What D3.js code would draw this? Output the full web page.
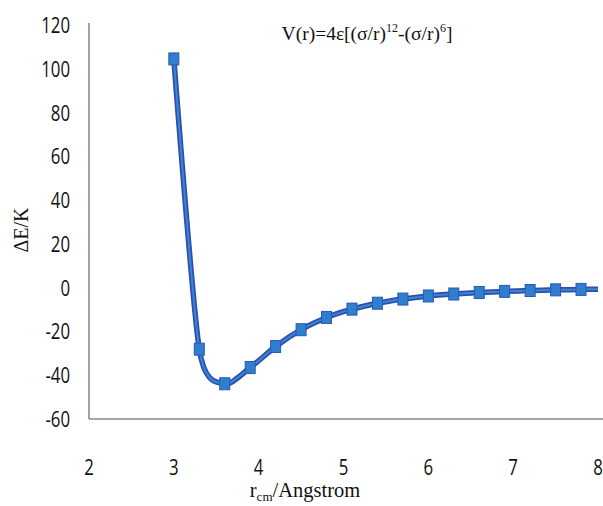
<!DOCTYPE html>
<html><head><meta charset="utf-8">
<script src="https://cdn.jsdelivr.net/npm/d3@7"></script>
<style>body{margin:0;background:#fff}svg{display:block}</style>
</head><body>
<svg id="c" width="603" height="506"></svg>
<script>
const rValues = [3.0,3.3,3.6,3.9,4.2,4.5,4.8,5.1,5.4,5.7,6.0,6.3,6.6,6.9,7.2,7.5,7.8];
const energyValues = [104.5,-28.1,-43.9,-36.5,-26.9,-19.2,-13.6,-9.8,-7.1,-5.2,-3.8,-2.9,-2.2,-1.7,-1.3,-1.0,-0.8];
const tailR = [8.0];
const tailE = [-0.7];
const xTicks = [2,3,4,5,6,7,8];
const yTicks = [-60,-40,-20,0,20,40,60,80,100,120];

const svg = d3.select("#c");
const x = d3.scaleLinear().domain([2,8]).range([89,598]);
const y = d3.scaleLinear().domain([-60,120]).range([419,25]);

// axes lines
svg.append("line").attr("x1",x(2)).attr("x2",603).attr("y1",y(-60)).attr("y2",y(-60))
  .attr("stroke","#8a8a8a").attr("stroke-width",1.6);
svg.append("line").attr("x1",x(2)).attr("x2",x(2)).attr("y1",y(-60)).attr("y2",23)
  .attr("stroke","#8a8a8a").attr("stroke-width",1.6);

const tickFont = "'Open Sans','Liberation Sans',sans-serif";
const sx = 0.8;
svg.append("g").selectAll("text").data(yTicks).join("text")
  .attr("transform",d=>`translate(70,${y(d)}) scale(${sx},1.05)`).attr("dy","0.36em")
  .attr("text-anchor","end").attr("font-family",tickFont).attr("font-size",21).attr("fill","#111")
  .text(d=>d);
svg.append("g").selectAll("text").data(xTicks).join("text")
  .attr("transform",d=>`translate(${x(d)},467) scale(${sx},1.05)`).attr("dy","0.36em")
  .attr("text-anchor","middle").attr("font-family",tickFont).attr("font-size",21).attr("fill","#111")
  .text(d=>d);

// axis titles
const xt = svg.append("text").attr("x",305).attr("y",497).attr("text-anchor","middle")
  .attr("font-family","'Liberation Serif','Times New Roman',serif").attr("font-size",20.5).attr("fill","#111");
xt.append("tspan").text("r");
xt.append("tspan").attr("font-size",13).attr("dy",4).text("cm");
xt.append("tspan").attr("dy",-4).text("/Angstrom");

svg.append("text").attr("transform","translate(28,230) rotate(-90)").attr("text-anchor","middle")
  .attr("font-family","'Liberation Serif','Times New Roman',serif").attr("font-size",20).attr("fill","#111")
  .text("ΔE/K");

// formula
const ft = svg.append("text").attr("x",367).attr("y",40).attr("text-anchor","middle")
  .attr("font-family","'Liberation Serif','Times New Roman',serif").attr("font-size",19.5).attr("fill","#111");
ft.append("tspan").text("V(r)=4ε[(σ/r)");
ft.append("tspan").attr("font-size",12).attr("dy",-8).text("12");
ft.append("tspan").attr("dy",8).text("-(σ/r)");
ft.append("tspan").attr("font-size",12).attr("dy",-8).text("6");
ft.append("tspan").attr("dy",8).text("]");

// curve
const pts = rValues.map((r,i)=>[r,energyValues[i]]).concat(tailR.map((r,i)=>[r,tailE[i]]));
const line = d3.line().x(d=>x(d[0])).y(d=>y(d[1])).curve(d3.curveCardinal.tension(0.3));
svg.append("path").attr("d",line(pts)).attr("fill","none").attr("stroke","#2d4fae").attr("stroke-width",5.5);
svg.append("path").attr("d",line(pts)).attr("fill","none").attr("stroke","#3b86d2").attr("stroke-width",2);

// markers
svg.append("g").selectAll("rect").data(rValues.map((r,i)=>[r,energyValues[i]])).join("rect")
  .attr("x",d=>x(d[0])-5).attr("y",d=>y(d[1])-6).attr("width",10).attr("height",12)
  .attr("fill","#2f7fcf").attr("stroke","#2a58b2").attr("stroke-width",1);
</script>
</body></html>
